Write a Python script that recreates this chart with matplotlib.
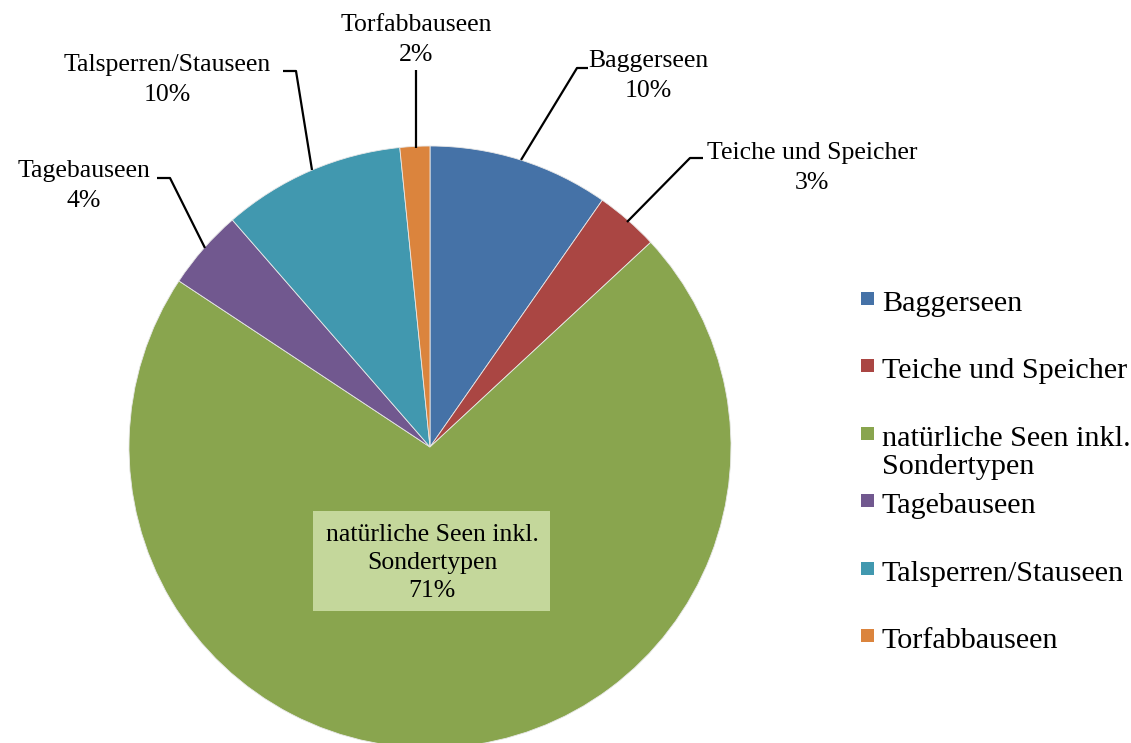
import numpy as np
import matplotlib.pyplot as plt
from matplotlib.patches import Rectangle

# daten (anteile in %)
kategorien = ['Baggerseen', 'Teiche und Speicher', 'natürliche Seen inkl.\nSondertypen',
              'Tagebauseen', 'Talsperren/Stauseen', 'Torfabbauseen']
anteile = [9.7, 3.4, 71.2, 4.3, 9.8, 1.6]
farben = ['#4572A7', '#AA4643', '#89A54E', '#71588F', '#4198AF', '#DB843D']

plt.rcParams['font.family'] = ['Liberation Serif', 'DejaVu Serif']

W, H = 1131, 743
fig = plt.figure(figsize=(W / 100, H / 100), dpi=100)
ax = fig.add_axes([0, 0, 1, 1])

def Y(y):
    # pixel von oben -> achsen koordinate
    return H - y

cx, cy, r = 430, Y(447), 301
wedges, _ = ax.pie(anteile, colors=farben, startangle=90, counterclock=False,
                   center=(cx, cy), radius=r, frame=True,
                   wedgeprops=dict(edgecolor='#e8e8e8', linewidth=0.6))
ax.set_xlim(0, W)
ax.set_ylim(0, H)
ax.set_aspect('equal')
ax.axis('off')

prozent = ['%d%%' % round(a) for a in anteile]
fs = 18.5

# beschriftungen aussen: (text x, text y, fuehrungslinie)
aussen = {
    0: (648, 76, [(521, 160), (577, 68), (588, 68)]),
    1: (812, 168, [(627, 222), (690, 158), (703, 158)]),
    3: (84, 186, [(205, 248), (170, 178), (157, 178)]),
    4: (167, 80, [(312, 170), (296, 71), (283, 71)]),
    5: (416, 40, [(416, 148), (416, 70)]),
}
for i, (tx, ty, linie) in aussen.items():
    ax.text(tx, Y(ty), kategorien[i] + '\n' + prozent[i], ha='center', va='center',
            fontsize=fs, linespacing=1.47, color='black')
    xs = [p[0] for p in linie]
    ys = [Y(p[1]) for p in linie]
    ax.plot(xs, ys, color='black', lw=1.6, solid_capstyle='butt')

# beschriftung innen mit kasten
ax.add_patch(Rectangle((313, Y(611)), 237, 100, facecolor='#C4D79B', edgecolor='none', zorder=3))
ax.text(432, Y(563), kategorien[2] + '\n' + prozent[2], ha='center', va='center',
        fontsize=fs, linespacing=1.38, zorder=4)

# legende
for i, name in enumerate(kategorien):
    ly = 300 + i * 67.4
    ax.add_patch(Rectangle((861, Y(ly) - 5), 13, 13, facecolor=farben[i], edgecolor='none'))
    ax.text(882, Y(ly) + 9, name, ha='left', va='top', fontsize=21.7, linespacing=1.1)

plt.savefig('out.png', dpi=100)
